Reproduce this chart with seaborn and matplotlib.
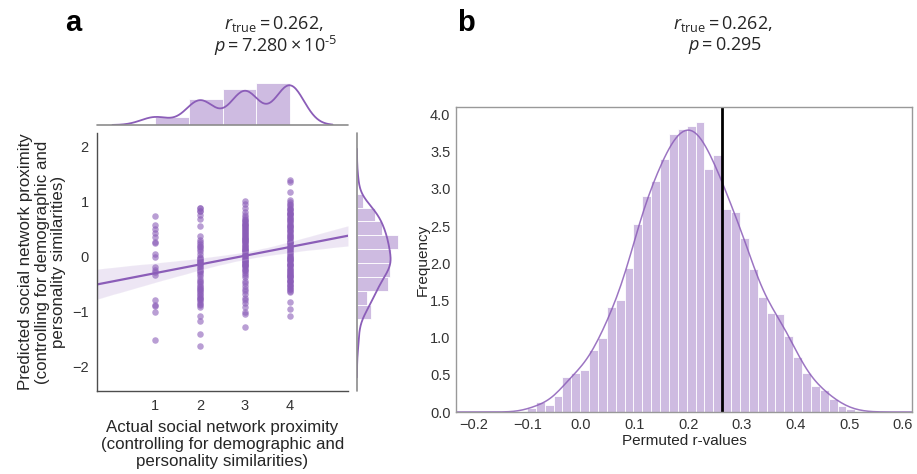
import numpy as np
import pandas as pd
import matplotlib
matplotlib.use("Agg")
import matplotlib.pyplot as plt
from matplotlib.ticker import MultipleLocator
import seaborn as sns

# ---- panel a: predicted proximity for each level of actual proximity ----
pred_level1 = [0.73, 0.58, 0.50, 0.43, 0.35, 0.27, 0.24, 0.05, 0.00, -0.19, -0.24,
               -0.28, -0.33, -0.80, -0.89, -0.91, -1.01, -1.53]
pred_level2 = [0.88, 0.82, 0.75, 0.69, 0.55, 0.38, 0.26, 0.22, 0.18, 0.14, 0.05,
               -0.04, -0.085, -0.12, -0.16, -0.19, -0.24, -0.28, -0.41, -0.44, -0.50,
               -0.56, -0.59, -0.62, -0.68, -0.73, -0.77, -0.83, -0.89, -0.92, -1.09,
               -1.18, -1.41, -1.63,
               0.88, 0.82, 0.30, 0.20, 0.10, 0.00, -0.02, -0.06, -0.10, -0.14, -0.21,
               -0.26, -0.31, -0.35, -0.46, -0.53, -0.60, -0.65, -0.70, -0.75, -0.80, -0.86]
pred_level3 = [1.02, 0.96, 0.885, 0.81, 0.75, 0.69, 0.64, 0.59, 0.55, 0.50, 0.46,
               0.41, 0.36, 0.32, 0.28, 0.23, 0.18, 0.14, 0.10, 0.05, 0.00, -0.04,
               -0.085, -0.13, -0.18, -0.22, -0.27, -0.38, -0.44, -0.53, -0.59, -0.69,
               -0.80, -0.85, -0.92, -1.01, -1.05, -1.29,
               0.72, 0.66, 0.62, 0.57, 0.52, 0.48, 0.44, 0.39, 0.34, 0.30, 0.26, 0.21,
               0.16, 0.12, 0.08, 0.03, -0.02, -0.06, -0.10, -0.15, -0.20, -0.25,
               0.53, 0.43, 0.38, 0.27, 0.20, 0.11, 0.02, -0.08, -0.16, -0.30, -0.34,
               -0.48, -0.62, -0.75, 0.60, 0.31, -0.12]
pred_level4 = [1.39, 1.35, 1.17, 1.03, 0.96, 0.90, 0.84, 0.79, 0.75, 0.69, 0.62,
               0.56, 0.50, 0.44, 0.38, 0.32, 0.26, 0.20, 0.14, 0.08, 0.02, -0.04,
               -0.085, -0.13, -0.18, -0.23, -0.28, -0.33, -0.38, -0.42, -0.47, -0.53,
               -0.59, -0.65, -0.83, -0.95, -1.09,
               0.99, 0.93, 0.87, 0.81, 0.77, 0.72, 0.66, 0.59, 0.53, 0.47, 0.41, 0.35,
               0.29, 0.23, 0.17, 0.11, 0.05, -0.01, -0.07, -0.11, -0.16, -0.21, -0.26,
               -0.31, -0.36, -0.40, -0.45, -0.50, -0.56, -0.62,
               0.86, 0.70, 0.64, 0.58, 0.48, 0.40, 0.34, 0.24, 0.15, 0.09, 0.00, -0.06,
               -0.15, -0.24, -0.30, -0.44, -0.52, -0.60, 0.78, 0.54, 0.27, -0.02, -0.35]
actual_levels = [1, 2, 3, 4]

# right marginal histogram (bin centres, density)
pred_bin_centers = [-1.006, -0.753, -0.500, -0.247, 0.006, 0.259, 0.512, 0.765, 1.018]
pred_bin_density = [0.262, 0.187, 0.581, 0.612, 0.637, 0.762, 0.468, 0.331, 0.112]

# ---- panel b: permuted r-values histogram (bin centres, density) ----
perm_bin_centers = [-0.0926, -0.0761, -0.0595, -0.0430, -0.0264, -0.0099, 0.0067,
                    0.0232, 0.0398, 0.0563, 0.0729, 0.0894, 0.1060, 0.1225, 0.1391,
                    0.1556, 0.1722, 0.1887, 0.2053, 0.2218, 0.2384, 0.2549, 0.2715,
                    0.2880, 0.3046, 0.3211, 0.3377, 0.3542, 0.3708, 0.3873, 0.4039,
                    0.4204, 0.4370, 0.4535, 0.4701, 0.4866, 0.5032, 0.5197]
perm_bin_density = [0.05, 0.13, 0.09, 0.21, 0.47, 0.53, 0.56, 0.84, 1.00, 1.41, 1.51,
                    1.94, 2.53, 2.91, 3.11, 3.40, 3.74, 3.80, 3.84, 3.90, 3.27, 3.46,
                    2.73, 2.69, 2.34, 1.92, 1.54, 1.33, 1.32, 1.02, 0.74, 0.52, 0.35,
                    0.30, 0.18, 0.085, 0.04, 0.01]
r_true = 0.262

purple = "#8b5db8"

sns.set_style("white")
plt.rcParams["font.family"] = ["Liberation Sans", "DejaVu Sans"]
plt.rcParams["mathtext.fontset"] = "custom"
plt.rcParams["mathtext.rm"] = "Open Sans"
plt.rcParams["mathtext.it"] = "Open Sans:italic"
plt.rcParams["text.color"] = ".15"
plt.rcParams["axes.labelcolor"] = ".15"
plt.rcParams["xtick.color"] = ".2"
plt.rcParams["ytick.color"] = ".2"

groups = [pred_level1, pred_level2, pred_level3, pred_level4]
df = pd.concat([pd.DataFrame({"actual": lvl, "predicted": vals})
                for lvl, vals in zip(actual_levels, groups)], ignore_index=True)

W, H = 917, 474
fig = plt.figure(figsize=(W / 100, H / 100), dpi=100)


def box(x0, y0, x1, y1):
    # pixel box (top-left origin) -> figure fraction rect
    return [x0 / W, 1 - y1 / H, (x1 - x0) / W, (y1 - y0) / H]


ax = fig.add_axes(box(97, 133, 348, 391))
ax_top = fig.add_axes(box(97, 75, 348, 125))
ax_right = fig.add_axes(box(357, 133, 407, 391))
ax_b = fig.add_axes(box(456, 107, 912, 412))

# main scatter + regression
ax.set_xlim(-0.3, 5.3)
ax.set_ylim(-2.45, 2.25)
sns.regplot(data=df, x="actual", y="predicted", ax=ax, color=purple, truncate=False,
            seed=0, scatter_kws={"s": 22, "alpha": 0.6, "linewidths": 0},
            line_kws={"lw": 1.6})
ax.set_xlim(-0.3, 5.3)
ax.set_ylim(-2.45, 2.25)
ax.set_xticks(actual_levels)
ax.set_yticks([-2, -1, 0, 1, 2])
ax.tick_params(labelsize=10.5, length=0, pad=6)
ax.set_xlabel("Actual social network proximity\n(controlling for demographic and\npersonality similarities)",
              fontsize=12.2, labelpad=5, linespacing=1.15)
ax.set_ylabel("Predicted social network proximity\n(controlling for demographic and\npersonality similarities)",
              fontsize=12.2, labelpad=4, linespacing=1.15)
sns.despine(ax=ax)
for s in ["left", "bottom"]:
    ax.spines[s].set_color(".3")
    ax.spines[s].set_linewidth(1.0)

# top marginal
sns.histplot(data=df, x="actual", bins=4, stat="density", ax=ax_top, color=purple,
             alpha=0.42, edgecolor="white", linewidth=0.6)
sns.kdeplot(data=df, x="actual", ax=ax_top, color=purple, lw=1.3)
ax_top.set_xlim(-0.3, 5.3)
ax_top.set_ylim(0, 0.593)
ax_top.set_axis_off()
ax_top.axhline(0, color=".55", lw=1.2, clip_on=False)

# right marginal
sns.histplot(y=pred_bin_centers, weights=pred_bin_density, bins=9, binrange=(-1.133, 1.144),
             ax=ax_right, color=purple, alpha=0.42, edgecolor="white", linewidth=0.6)
sns.kdeplot(data=df, y="predicted", ax=ax_right, color=purple, lw=1.3)
ax_right.set_ylim(-2.45, 2.25)
ax_right.set_xlim(0, 0.936)
ax_right.set_axis_off()
ax_right.axvline(0, color=".55", lw=1.2, clip_on=False)

# panel b
sns.histplot(x=perm_bin_centers, weights=perm_bin_density, bins=38,
             binrange=(-0.1009, 0.5280), ax=ax_b, color=purple, alpha=0.42,
             edgecolor="white", linewidth=0.6)
sns.kdeplot(x=perm_bin_centers, weights=perm_bin_density, bw_adjust=0.4, cut=12,
            clip=(-0.233, 0.617), ax=ax_b, color=purple, lw=1.1, alpha=0.85)
ax_b.axvline(r_true, color="black", lw=2)
ax_b.set_xlim(-0.233, 0.617)
ax_b.set_ylim(0, 4.1)
ax_b.xaxis.set_major_locator(MultipleLocator(0.1))
ax_b.yaxis.set_major_locator(MultipleLocator(0.5))
ax_b.tick_params(labelsize=10.5, length=0, pad=4)
ax_b.set_xlabel("Permuted r-values", fontsize=11, labelpad=2)
ax_b.set_ylabel("Frequency", fontsize=11, labelpad=0)
for s in ax_b.spines.values():
    s.set_visible(True)
    s.set_color(".6")
    s.set_linewidth(1.0)

# panel letters and titles
hyph = "\u2010"
fig.text(73 / W, 1 - 23 / H, "a", fontsize=21, fontweight="bold", ha="center", va="center", color="black")
fig.text(466 / W, 1 - 23 / H, "b", fontsize=21, fontweight="bold", ha="center", va="center", color="black")
fig.text(274 / W, 1 - 24 / H, r"$r_{\mathrm{true}}=0.262,$", fontsize=13, ha="center", va="center")
fig.text(276 / W, 1 - 46 / H, r"$p=7.280\times10^{" + hyph + "5}$", fontsize=13, ha="center", va="center")
fig.text(723 / W, 1 - 24 / H, r"$r_{\mathrm{true}}=0.262,$", fontsize=13, ha="center", va="center")
fig.text(725 / W, 1 - 46 / H, r"$p=0.295$", fontsize=13, ha="center", va="center")

fig.savefig("out.png", dpi=100)
